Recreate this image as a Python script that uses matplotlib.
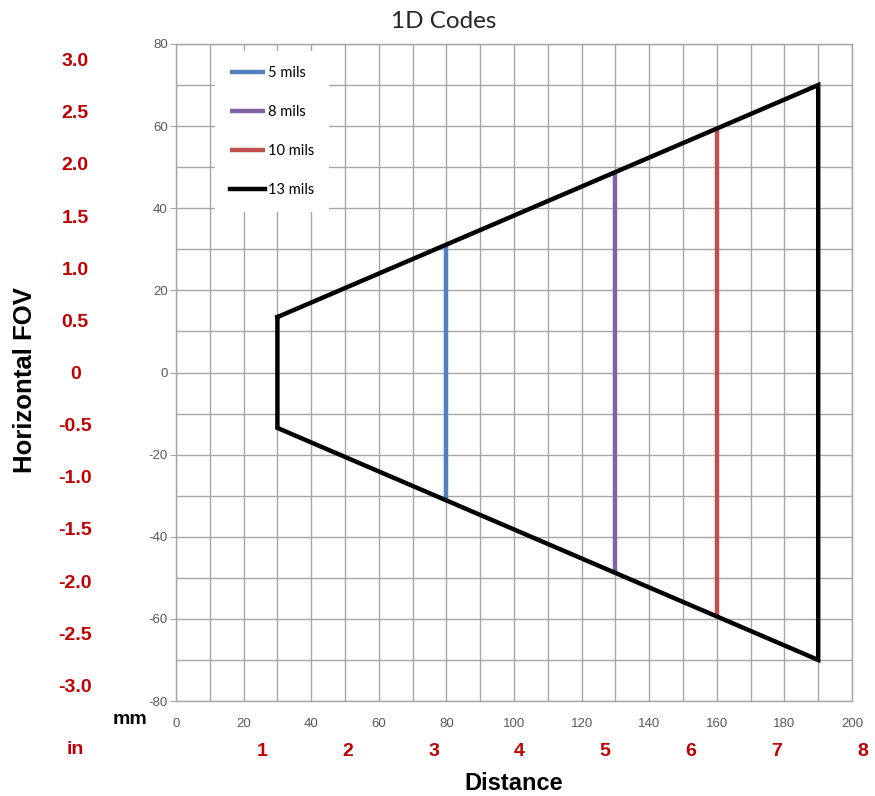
import matplotlib
matplotlib.use("Agg")
import matplotlib.pyplot as plt
from matplotlib.ticker import MultipleLocator, FixedLocator, FixedFormatter

plt.rcParams["axes.unicode_minus"] = False

# ---- data ----
series_labels = ["5 mils", "8 mils", "10 mils", "13 mils"]
series_colors = ["#4F81BD", "#8064A2", "#C0504D", "#000000"]
blue_x = [80, 80]
blue_y = [-31.2, 31.2]
purple_x = [130, 130]
purple_y = [-48.8, 48.8]
red_x = [160, 160]
red_y = [-59.4, 59.4]
black_x = [30, 190, 190, 30, 30]
black_y = [13.5, 70, -70, -13.5, 13.5]

x_mm_ticks = [0, 20, 40, 60, 80, 100, 120, 140, 160, 180, 200]
y_mm_ticks = [-80, -60, -40, -20, 0, 20, 40, 60, 80]
x_in_ticks = [1, 2, 3, 4, 5, 6, 7, 8]
y_in_ticks = [3.0, 2.5, 2.0, 1.5, 1.0, 0.5, 0.0, -0.5, -1.0, -1.5, -2.0, -2.5, -3.0]
y_in_labels = ["3.0", "2.5", "2.0", "1.5", "1.0", "0.5", "0", "-0.5", "-1.0",
               "-1.5", "-2.0", "-2.5", "-3.0"]
MM_PER_IN = 25.4

W, H = 875, 796
fig = plt.figure(figsize=(W / 100, H / 100), dpi=100)
ax = fig.add_axes([176 / W, 1 - 701 / H, 676 / W, 657 / H])

grid_c = "#a6a6a6"
ax.set_xlim(0, 200)
ax.set_ylim(-80, 80)
ax.xaxis.set_major_locator(FixedLocator(x_mm_ticks))
ax.yaxis.set_major_locator(FixedLocator(y_mm_ticks))
ax.xaxis.set_minor_locator(MultipleLocator(10))
ax.yaxis.set_minor_locator(MultipleLocator(10))
ax.grid(True, which="both", color=grid_c, linewidth=1.0)
ax.set_axisbelow(True)
for s in ax.spines.values():
    s.set_color(grid_c)
    s.set_linewidth(1.0)
ax.tick_params(axis="x", which="both", length=0, pad=12, labelsize=9.5, labelcolor="#595959")
ax.tick_params(axis="y", which="major", length=4, pad=2, labelsize=9.5, labelcolor="#595959", color=grid_c)
ax.tick_params(axis="y", which="minor", length=0)
for lab in ax.get_xticklabels() + ax.get_yticklabels():
    lab.set_fontfamily("Liberation Sans")

lw = 3.2
ax.plot(blue_x, blue_y, color=series_colors[0], lw=lw, label=series_labels[0], solid_capstyle="butt")
ax.plot(purple_x, purple_y, color=series_colors[1], lw=lw, label=series_labels[1], solid_capstyle="butt")
ax.plot(red_x, red_y, color=series_colors[2], lw=lw, label=series_labels[2], solid_capstyle="butt")
ax.plot(black_x, black_y, color=series_colors[3], lw=lw, label=series_labels[3], solid_joinstyle="miter")

leg = ax.legend(loc="upper left", bbox_to_anchor=(0.058, 0.989), frameon=True,
                fancybox=False, edgecolor="none", facecolor="white", framealpha=1,
                prop={"family": "Lato", "size": 10.5}, labelspacing=1.73,
                handlelength=2.4, handletextpad=0.2, borderpad=1.0, borderaxespad=0)

# secondary inch axes
red = "#C00000"
secy = ax.secondary_yaxis(-0.149, functions=(lambda v: v / MM_PER_IN, lambda v: v * MM_PER_IN))
secy.yaxis.set_major_locator(FixedLocator(y_in_ticks))
secy.yaxis.set_major_formatter(FixedFormatter(y_in_labels))
secy.yaxis.set_minor_locator(FixedLocator([]))
secy.spines["left"].set_visible(False)
secy.tick_params(axis="y", length=0, pad=0, labelsize=14, labelcolor=red)
for lab in secy.get_yticklabels():
    lab.set_fontweight("bold")
    lab.set_fontfamily("Liberation Sans")
    lab.set_horizontalalignment("center")

xin_y = (701 - 751) / 657
for v in x_in_ticks:
    ax.text(v * MM_PER_IN, xin_y, str(v), transform=ax.get_xaxis_transform(),
            ha="center", va="center", fontsize=14, fontweight="bold",
            family="Liberation Sans", color=red, clip_on=False)

fig.text(130 / W, 1 - 720 / H, "mm", ha="center", va="center", fontsize=14,
         fontweight="bold", family="Liberation Sans", color="black")
fig.text(75 / W, 1 - 750 / H, "in", ha="center", va="center", fontsize=14,
         fontweight="bold", family="Liberation Sans", color=red)
fig.text(514 / W, 1 - 783 / H, "Distance", ha="center", va="center", fontsize=17,
         fontweight="bold", family="Liberation Sans")
fig.text(25 / W, 1 - 380 / H, "Horizontal FOV", ha="center", va="center", fontsize=18.5,
         fontweight="bold", family="Liberation Sans", rotation=90)
fig.text(444 / W, 1 - 22 / H, "1D Codes", ha="center", va="center", fontsize=17.5,
         family="Lato", color="#262626")

fig.savefig("out.png", dpi=100)
